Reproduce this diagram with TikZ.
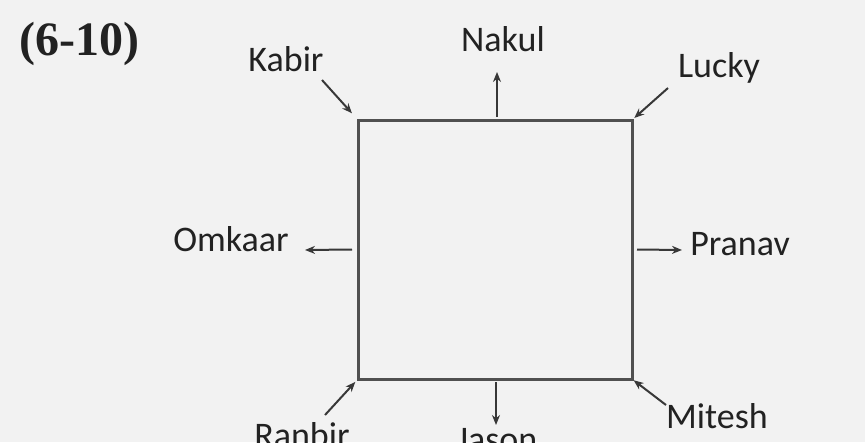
\documentclass[tikz,border=0pt]{standalone}
\usepackage{fontspec}
\setmainfont{Carlito}
\newfontfamily\titlefont{Liberation Serif}
\usetikzlibrary{arrows.meta}
\definecolor{paper}{HTML}{F2F2F2}
\definecolor{ink}{HTML}{222222}
\definecolor{edge}{HTML}{505050}

\begin{document}
\begin{tikzpicture}
		[x=1pt, y=-1pt,
		boxnode/.style={rectangle, draw=edge, line width=3pt, minimum width=274pt, minimum height=259pt, outer sep=0pt},
		namenode/.style={anchor=base, inner sep=0pt, text=ink, font=\fontsize{36}{40}\selectfont},
		pointer/.style={draw=ink!90, line width=2pt, -{Stealth[length=10pt, width=8pt]}},
		]
		\useasboundingbox[fill=paper] (0,0) rectangle (865,442);
		
		%Nodes
		\node[anchor=base west, inner sep=0pt, text=ink, font=\titlefont\bfseries\fontsize{48}{52}\selectfont](title) at (19,55) {(6-10)};
		\node[boxnode](room) at (495,249.5) {};
		\node[namenode](kabir) at (286,71) {Kabir};
		\node[namenode](nakul) at (503,51) {Nakul};
		\node[namenode](lucky) at (719,77) {Lucky};
		\node[namenode](omkaar) at (231,251) {Omkaar};
		\node[namenode](pranav) at (740,255) {Pranav};
		\node[namenode](ranbir) at (302,447) {Ranbir};
		\node[namenode](jason) at (497,451) {Jason};
		\node[namenode](mitesh) at (717,428) {Mitesh};
		%Free ends
		\coordinate (kabirtail) at (322,80);
		\coordinate (nakultip) at (497,72);
		\coordinate (luckytail) at (668,88);
		\coordinate (omkaartip) at (305,250);
		\coordinate (pranavtip) at (682,250);
		\coordinate (ranbirtail) at (325,415);
		\coordinate (jasontip) at (496,425);
		\coordinate (miteshtail) at (666,405);
		%Lines
		\draw[pointer, shorten >=9pt](kabirtail) -- (room.north west);
		\draw[pointer](room.north -| nakultip) ++(0,-3) -- (nakultip);
		\draw[pointer, shorten >=3pt](luckytail) -- (room.north east);
		\draw[pointer](room.west) ++(-6,0) -- (omkaartip);
		\draw[pointer](room.east) ++(5,0) -- (pranavtip);
		\draw[pointer, shorten >=4pt](ranbirtail) -- (room.south west);
		\draw[pointer](room.south -| jasontip) ++(0,3) -- (jasontip);
		\draw[pointer, shorten >=2pt](miteshtail) -- (room.south east);
	\end{tikzpicture}
\end{document}
